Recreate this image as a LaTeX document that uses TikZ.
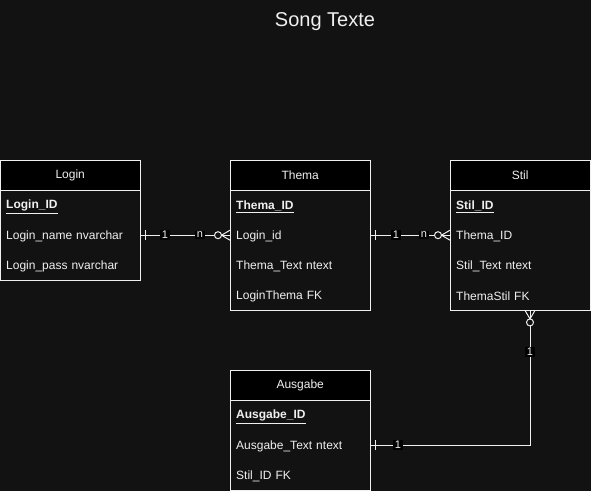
\documentclass[tikz,border=0pt]{standalone}
\usepackage{fontspec}
\setmainfont{Liberation Sans}
\usetikzlibrary{calc}
\definecolor{bg}{HTML}{121212}
\definecolor{fg}{HTML}{F0F0F0}
\newcommand{\rowtxt}[1]{\raisebox{-1.5pt}[\height][\depth]{#1}}
\begin{document}
\begin{tikzpicture}[x=1pt,y=-1pt,
  hdr/.style={draw=fg,fill=black,text=fg,minimum width=140pt,minimum height=30pt,anchor=north west,inner sep=0pt,font=\fontsize{12}{14}\selectfont},
  row/.style={text=fg,minimum width=140pt,minimum height=30pt,anchor=north west,inner sep=0pt,text width=128pt,align=left,font=\fontsize{12}{14}\selectfont},
  tbl/.style={draw=fg,line width=0.8pt},
  con/.style={draw=fg,line width=1pt},
  lbl/.style={fill=black,text=fg,inner sep=1.5pt,font=\fontsize{11}{13}\selectfont}
]
\fill[bg] (0,0) rectangle (591,491);
\useasboundingbox (0,0) rectangle (591,491);
\node[text=fg,font=\fontsize{20}{24}\selectfont] (title) at (325,22) {Song Texte};

% Login
\draw[tbl] (0,160) rectangle (140,280);
\node[hdr] (login) at (0,160) {Login};
\node[row] (lid) at (0,190) {\rowtxt{\underline{\textbf{Login\_ID}}}};
\node[row] (lname) at (0,220) {\rowtxt{Login\_name nvarchar}};
\node[row] (lpass) at (0,250) {\rowtxt{Login\_pass nvarchar}};

% Thema
\draw[tbl] (230,160) rectangle (370,310);
\node[hdr] (thema) at (230,160) {Thema};
\node[row] (tid) at (230,190) {\rowtxt{\underline{\textbf{Thema\_ID}}}};
\node[row] (tlogin) at (230,220) {\rowtxt{Login\_id}};
\node[row] (ttext) at (230,250) {\rowtxt{Thema\_Text ntext}};
\node[row] (tfk) at (230,280) {\rowtxt{LoginThema FK}};

% Stil
\draw[tbl] (450,160) rectangle (590,310);
\node[hdr] (stil) at (450,160) {Stil};
\node[row] (sid) at (450,190) {\rowtxt{\underline{\textbf{Stil\_ID}}}};
\node[row] (sthema) at (450,220) {\rowtxt{Thema\_ID}};
\node[row] (stext) at (450,250) {\rowtxt{Stil\_Text ntext}};
\node[row] (sfk) at (450,280) {\rowtxt{ThemaStil FK}};

% Ausgabe
\draw[tbl] (230,370) rectangle (370,490);
\node[hdr] (ausgabe) at (230,370) {Ausgabe};
\node[row] (aid) at (230,400) {\rowtxt{\underline{\textbf{Ausgabe\_ID}}}};
\node[row] (atext) at (230,430) {\rowtxt{Ausgabe\_Text ntext}};
\node[row] (afk) at (230,460) {\rowtxt{Stil\_ID FK}};

% Login -> Thema
\draw[con] (lname.east) -- ($(tlogin.west)+(-15,0)$);
\draw[con] ($(lname.east)+(5,-5)$) -- ($(lname.east)+(5,5)$);
\draw[con] ($(tlogin.west)+(-12,0)$) circle (3.5);
\draw[con] ($(tlogin.west)+(-8.5,0)$) -- (tlogin.west);
\draw[con] ($(tlogin.west)+(-8.5,0)$) -- ($(tlogin.west)+(0,-5)$);
\draw[con] ($(tlogin.west)+(-8.5,0)$) -- ($(tlogin.west)+(0,5)$);
\node[lbl] (l1a) at (165,235) {1};
\node[lbl] (l1b) at (200,235) {n};

% Thema -> Stil
\draw[con] (tlogin.east) -- ($(sthema.west)+(-15,0)$);
\draw[con] ($(tlogin.east)+(5,-5)$) -- ($(tlogin.east)+(5,5)$);
\draw[con] ($(sthema.west)+(-12,0)$) circle (3.5);
\draw[con] ($(sthema.west)+(-8.5,0)$) -- (sthema.west);
\draw[con] ($(sthema.west)+(-8.5,0)$) -- ($(sthema.west)+(0,-5)$);
\draw[con] ($(sthema.west)+(-8.5,0)$) -- ($(sthema.west)+(0,5)$);
\node[lbl] (l2a) at (396,235) {1};
\node[lbl] (l2b) at (424,235) {n};

% Stil -> Ausgabe
\coordinate (sb) at ($(sfk.south west)+(80,0)$);
\coordinate (corner) at (sb |- atext.east);
\draw[con] ($(sb)+(0,15)$) -- (corner) -- (atext.east);
\draw[con] ($(sb)+(0,12)$) circle (3.5);
\draw[con] ($(sb)+(0,8.5)$) -- (sb);
\draw[con] ($(sb)+(0,8.5)$) -- ($(sb)+(-5,0)$);
\draw[con] ($(sb)+(0,8.5)$) -- ($(sb)+(5,0)$);
\draw[con] ($(atext.east)+(5,-5)$) -- ($(atext.east)+(5,5)$);
\node[lbl] (l3a) at (530,352) {1};
\node[lbl] (l3b) at (398,445) {1};
\end{tikzpicture}
\end{document}
